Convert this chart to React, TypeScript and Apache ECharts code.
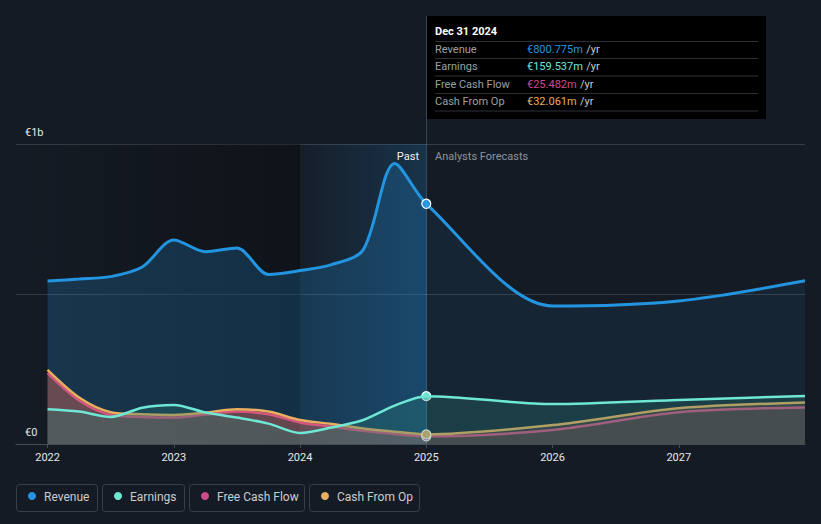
import React, { useEffect, useRef } from 'react';
import * as echarts from 'echarts';

// quarter ends (decimal years) for reported data, then yearly analyst forecasts
const PAST_X = [2022, 2022.25, 2022.5, 2022.75, 2023, 2023.25, 2023.5, 2023.75, 2024, 2024.25, 2024.5, 2024.75, 2025];
const FORECAST_X = [2026, 2027, 2028];
const X_VALUES = [...PAST_X, ...FORECAST_X];

// values in € millions
const REVENUE = [543, 550, 558, 590, 680, 641, 653, 565, 578, 598, 647, 935, 800.775, 460, 477, 544];
const EARNINGS = [116, 108, 90, 121, 130, 105, 88, 68, 37, 55, 80, 128, 159.537, 133, 147, 160];
const FREE_CASH_FLOW = [236, 145, 97, 90, 88, 98, 108, 99, 72, 58, 44, 33, 25.482, 47, 106, 122];
const CASH_FROM_OP = [247, 155, 106, 99, 97, 105, 116, 108, 80, 67, 52, 41, 32.061, 63, 119, 138];

const YEAR_TICKS = [2022, 2023, 2024, 2025, 2026, 2027];
const Y_LABELS: Record<number, string> = { 0: '€0', 1000: '€1b' };

const SERIES_NAMES = ['Revenue', 'Earnings', 'Free Cash Flow', 'Cash From Op'];
const SERIES_COLORS = ['#2394e0', '#6ee7d4', '#cf4a8b', '#e9ae5f'];
const TOOLTIP_DATE = 'Dec 31 2024';
const TOOLTIP_VALUES = ['€800.775m', '€159.537m', '€25.482m', '€32.061m'];
const PAST_LABEL = 'Past';
const FORECAST_LABEL = 'Analysts Forecasts';

const X_MIN = 2021.75;
const X_MAX = 2028;
const NOW_X = 2025;
const PAST_START = 2024;

const FONT = 'Roboto, "Noto Sans", sans-serif';

function pairs(vals: number[]) {
  return X_VALUES.map((x, i) => [x, vals[i]]);
}

function splitGradient(rgb: number[], pastA: number, futA: number) {
  const s = (NOW_X - X_VALUES[0]) / (X_VALUES[X_VALUES.length - 1] - X_VALUES[0]);
  const c = (a: number) => `rgba(${rgb[0]},${rgb[1]},${rgb[2]},${a})`;
  return new echarts.graphic.LinearGradient(0, 0, 1, 0, [
    { offset: 0, color: c(pastA) },
    { offset: s, color: c(pastA) },
    { offset: Math.min(1, s + 0.001), color: c(futA) },
    { offset: 1, color: c(futA) },
  ]);
}

export default function App() {
  const ref = useRef<HTMLDivElement>(null);
  useEffect(() => {
    const chart = echarts.init(ref.current!, null, { renderer: 'svg' });
    const vals = [REVENUE, EARNINGS, FREE_CASH_FLOW, CASH_FROM_OP];
    const fillRgb = [
      [35, 148, 224],
      [40, 122, 114],
      [214, 80, 110],
      [236, 130, 80],
    ];
    const fillPast = [0.22, 0.32, 0.22, 0.22];
    const fillFut = [0.08, 0.3, 0.16, 0.16];
    const widths = [3, 2.5, 2.5, 2.5];
    const zOrder = [2, 6, 3, 4];

    const series: any[] = [
      {
        type: 'line',
        name: 'bg',
        data: [],
        z: 1,
        silent: true,
        markArea: {
          silent: true,
          data: [
            [
              {
                xAxis: X_MIN,
                itemStyle: {
                  color: new echarts.graphic.LinearGradient(0, 0, 1, 0, [
                    { offset: 0, color: 'rgba(0,0,0,0)' },
                    { offset: 1, color: 'rgba(0,0,0,0.3)' },
                  ]),
                },
              },
              { xAxis: PAST_START },
            ],
            [
              {
                xAxis: PAST_START,
                itemStyle: {
                  color: new echarts.graphic.LinearGradient(0, 0, 1, 0, [
                    { offset: 0, color: 'rgba(35,148,224,0.03)' },
                    { offset: 1, color: 'rgba(35,148,224,0.2)' },
                  ]),
                },
              },
              { xAxis: NOW_X },
            ],
          ],
        },
      },
    ];

    vals.forEach((v, i) => {
      series.push({
        type: 'line',
        name: SERIES_NAMES[i],
        data: pairs(v),
        smooth: 0.3,
        showSymbol: false,
        z: zOrder[i],
        lineStyle: { color: SERIES_COLORS[i], width: widths[i] },
        itemStyle: { color: SERIES_COLORS[i] },
        areaStyle: { color: splitGradient(fillRgb[i], fillPast[i], fillFut[i]), opacity: 1 },
        markPoint: {
          silent: true,
          symbol: 'circle',
          symbolSize: 9,
          label: { show: false },
          itemStyle: { color: SERIES_COLORS[i], borderColor: '#ffffff', borderWidth: 1.2 },
          data: [{ coord: [NOW_X, v[X_VALUES.indexOf(NOW_X)]] }],
        },
      });
    });

    const graphics: any[] = [];
    graphics.push({
      type: 'line',
      shape: { x1: 426.5, y1: 16, x2: 426.5, y2: 444 },
      style: { stroke: 'rgba(140,180,220,0.28)', lineWidth: 1 },
      z: 50,
    });
    graphics.push({
      type: 'text',
      x: 419,
      y: 156,
      style: { text: PAST_LABEL, fill: '#eceef1', font: `11px ${FONT}`, textAlign: 'right', textVerticalAlign: 'middle' },
      z: 60,
    });
    graphics.push({
      type: 'text',
      x: 435,
      y: 156,
      style: { text: FORECAST_LABEL, fill: '#8e939a', font: `11px ${FONT}`, textAlign: 'left', textVerticalAlign: 'middle' },
      z: 60,
    });
    graphics.push({
      type: 'rect',
      shape: { x: 427, y: 16, width: 339, height: 103 },
      style: { fill: '#000000' },
      z: 100,
    });
    graphics.push({
      type: 'text',
      x: 435,
      y: 31,
      style: { text: TOOLTIP_DATE, fill: '#ffffff', font: `bold 11px ${FONT}`, textVerticalAlign: 'middle' },
      z: 101,
    });
    const sepY = [41.5, 58.5, 76, 93.5, 111];
    sepY.forEach((y) =>
      graphics.push({
        type: 'line',
        shape: { x1: 435, y1: y, x2: 758, y2: y },
        style: { stroke: '#2c3036', lineWidth: 1 },
        z: 101,
      })
    );
    SERIES_NAMES.forEach((n, i) => {
      const y = 49.5 + i * 17.3;
      graphics.push({
        type: 'text',
        x: 435,
        y,
        style: { text: n, fill: '#9aa0a6', font: `11px ${FONT}`, textVerticalAlign: 'middle' },
        z: 101,
      });
      graphics.push({
        type: 'text',
        x: 527,
        y,
        style: {
          text: `{v|${TOOLTIP_VALUES[i]}} {u|/yr}`,
          textVerticalAlign: 'middle',
          rich: {
            v: { fill: SERIES_COLORS[i], font: `11px ${FONT}` },
            u: { fill: '#c9ccd1', font: `11px ${FONT}` },
          },
        },
        z: 101,
      });
    });
    const boxes = [
      { x: 16, w: 81 },
      { x: 102, w: 82 },
      { x: 189, w: 115 },
      { x: 309, w: 110 },
    ];
    boxes.forEach((b, i) => {
      graphics.push({
        type: 'rect',
        shape: { x: b.x + 0.5, y: 484.5, width: b.w, height: 27, r: 3 },
        style: { fill: 'none', stroke: '#3a3f47', lineWidth: 1 },
      });
      graphics.push({
        type: 'circle',
        shape: { cx: b.x + 16, cy: 496, r: 4 },
        style: { fill: SERIES_COLORS[i] },
      });
      graphics.push({
        type: 'text',
        x: b.x + 28,
        y: 496.5,
        style: { text: SERIES_NAMES[i], fill: '#c9ccd1', font: `12px ${FONT}`, textVerticalAlign: 'middle' },
      });
    });

    chart.setOption({
      animation: false,
      backgroundColor: '#151b24',
      textStyle: { fontFamily: FONT },
      grid: { left: 16, right: 16, top: 144, bottom: 80, containLabel: false },
      xAxis: {
        type: 'value',
        min: X_MIN,
        max: X_MAX,
        splitLine: { show: false },
        axisLine: { show: true, lineStyle: { color: '#474c54', width: 1 } },
        axisTick: { show: true, customValues: YEAR_TICKS, length: 4, lineStyle: { color: '#474c54' } },
        axisLabel: {
          customValues: YEAR_TICKS,
          color: '#e6e8eb',
          fontSize: 11,
          margin: 8,
          formatter: (v: number) => String(Math.round(v)),
        },
      },
      yAxis: {
        type: 'value',
        min: 0,
        max: 1000,
        interval: 500,
        axisLine: { show: false },
        axisTick: { show: false },
        splitLine: { show: true, lineStyle: { color: '#353b44', width: 1 } },
        axisLabel: {
          inside: true,
          margin: 9,
          color: '#e6e8eb',
          fontSize: 11,
          verticalAlign: 'bottom',
          padding: [0, 0, 6, 0],
          formatter: (v: number) => Y_LABELS[v] ?? '',
        },
      },
      series,
      graphic: graphics,
    });
    return () => chart.dispose();
  }, []);
  return (
    <div
      ref={ref}
      style={{ position: 'fixed', left: 0, top: 0, width: 821, height: 524, background: '#151b24' }}
    />
  );
}
